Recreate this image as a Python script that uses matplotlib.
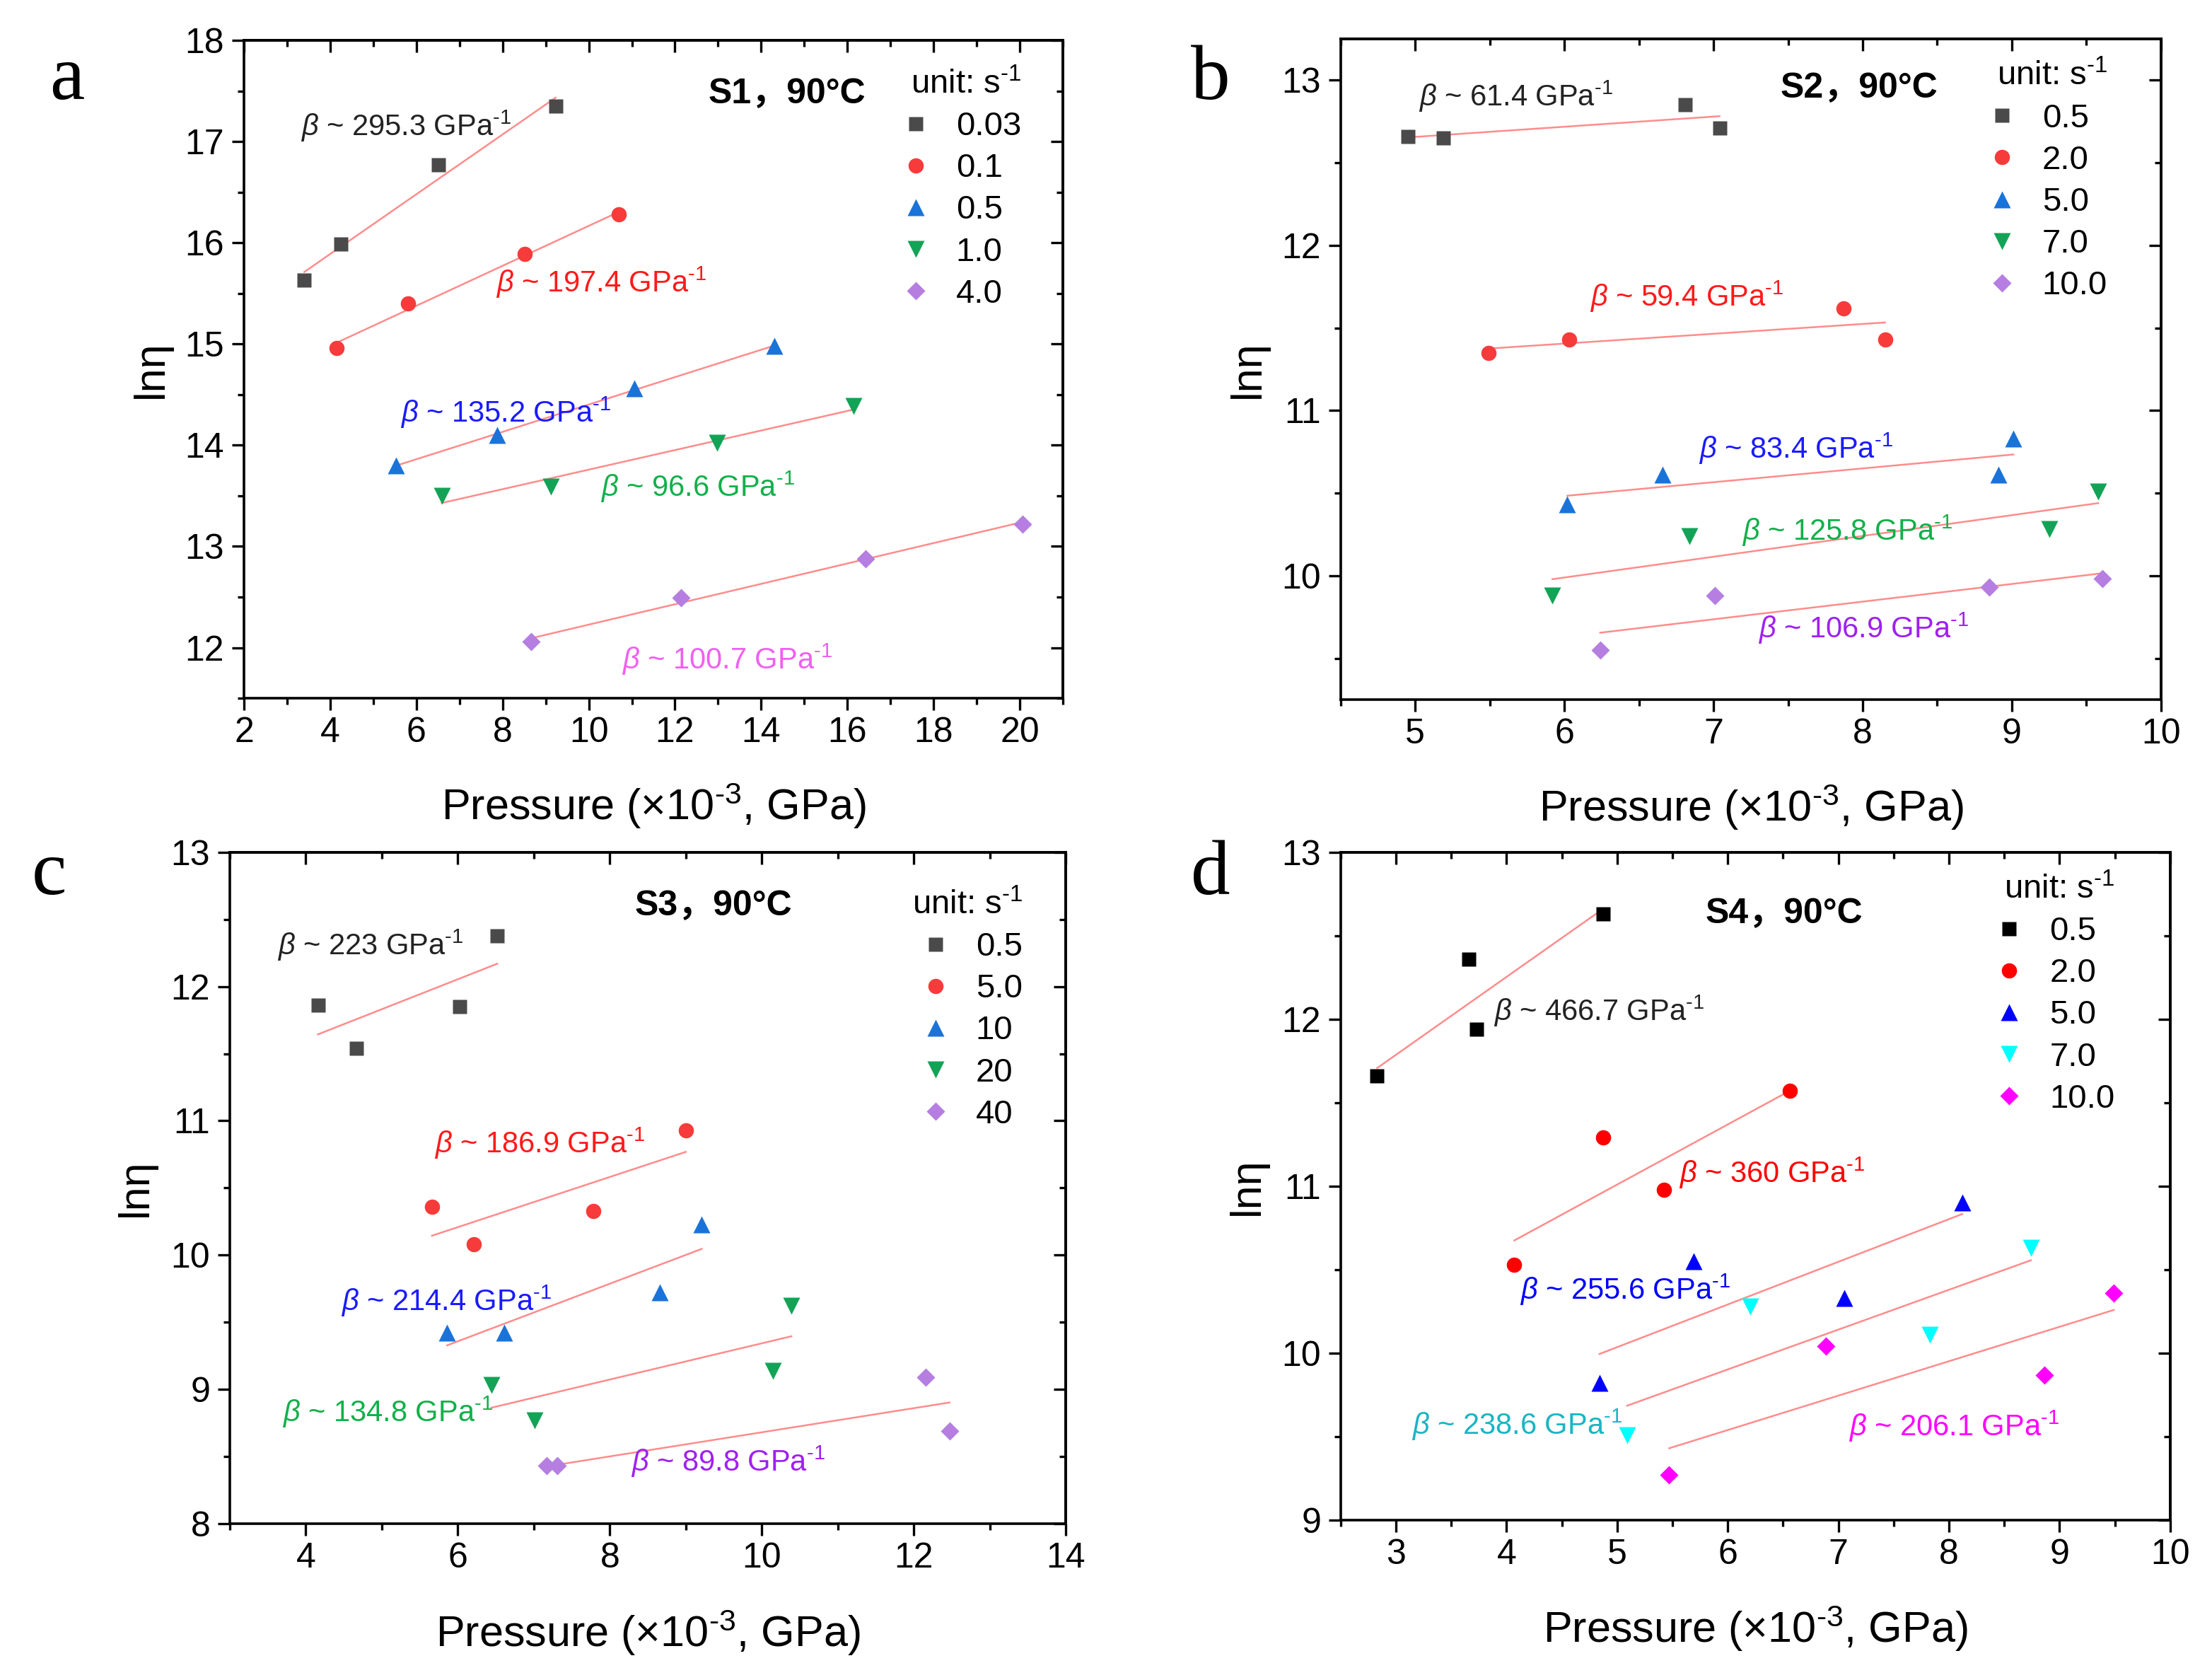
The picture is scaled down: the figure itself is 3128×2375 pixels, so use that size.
import numpy as np
import matplotlib
matplotlib.use('Agg')
import matplotlib.pyplot as plt
from matplotlib.ticker import MultipleLocator

plt.rcParams['font.family'] = ['Liberation Sans', 'Noto Sans CJK SC', 'DejaVu Sans']
plt.rcParams['mathtext.fontset'] = 'custom'
plt.rcParams['mathtext.rm'] = 'Liberation Sans'
plt.rcParams['mathtext.it'] = 'Liberation Sans:italic'

# ---- data ----
# panel a: S1
A_RATES = ['0.03', '0.1', '0.5', '1.0', '4.0']
A_X = [[3.40, 4.25, 6.52, 9.23],
       [4.15, 5.81, 8.51, 10.70],
       [5.53, 7.87, 11.06, 14.30],
       [6.59, 9.12, 12.97, 16.15],
       [8.66, 12.14, 16.43, 20.07]]
A_Y = [[15.63, 15.99, 16.77, 17.35],
       [14.96, 15.40, 15.89, 16.28],
       [13.80, 14.10, 14.56, 14.98],
       [13.50, 13.59, 14.02, 14.39],
       [12.06, 12.49, 12.88, 13.22]]
A_BETA = [295.3, 197.4, 135.2, 96.6, 100.7]

# panel b: S2
B_RATES = ['0.5', '2.0', '5.0', '7.0', '10.0']
B_X = [[4.95, 5.19, 6.81, 7.04],
       [5.49, 6.03, 7.87, 8.15],
       [6.02, 6.66, 8.91, 9.01],
       [5.92, 6.84, 9.25, 9.58],
       [6.24, 7.01, 8.85, 9.61]]
B_Y = [[12.66, 12.65, 12.85, 12.71],
       [11.35, 11.43, 11.62, 11.43],
       [10.43, 10.61, 10.61, 10.83],
       [9.88, 10.24, 10.28, 10.51],
       [9.55, 9.88, 9.93, 9.98]]
B_BETA = [61.4, 59.4, 83.4, 125.8, 106.9]

# panel c: S3
C_RATES = ['0.5', '5.0', '10', '20', '40']
C_X = [[4.16, 4.67, 6.02, 6.52],
       [5.66, 6.21, 7.78, 9.00],
       [5.86, 6.61, 8.66, 9.21],
       [6.44, 7.01, 10.15, 10.39],
       [7.17, 7.31, 12.16, 12.47]]
C_Y = [[11.86, 11.54, 11.85, 12.38],
       [10.36, 10.08, 10.33, 10.93],
       [9.42, 9.42, 9.72, 10.23],
       [9.03, 8.77, 9.14, 9.62],
       [8.43, 8.43, 9.09, 8.69]]
C_BETA = [223, 186.9, 214.4, 134.8, 89.8]

# panel d: S4
D_RATES = ['0.5', '2.0', '5.0', '7.0', '10.0']
D_X = [[2.83, 3.66, 3.73, 4.87],
       [4.07, 4.87, 5.42, 6.56],
       [4.84, 5.69, 7.05, 8.12],
       [5.09, 6.20, 7.83, 8.74],
       [5.47, 6.89, 8.86, 9.49]]
D_Y = [[11.66, 12.36, 11.94, 12.63],
       [10.53, 11.29, 10.98, 11.57],
       [9.82, 10.55, 10.33, 10.90],
       [9.51, 10.28, 10.11, 10.63],
       [9.27, 10.04, 9.87, 10.36]]
D_BETA = [466.7, 360, 255.6, 238.6, 206.1]

# ---- layout / style ----
MARKERS = ['s', 'o', '^', 'v', 'D']
MSIZE = [14.5, 15.5, 17.5, 17.5, 13.5]
COL_ABC = ['#4a4a4a', '#f73b3b', '#1a73d9', '#13a356', '#b57ee0']
COL_D = ['#000000', '#ff0000', '#0000ff', '#00ffff', '#ff00ff']
LAB_A = ['#222222', '#ff1a1a', '#1a1aff', '#12b04a', '#f060f0']
LAB_BC = ['#222222', '#ff1a1a', '#1a1aff', '#12b04a', '#a020f0']
LAB_D = ['#222222', '#ff0000', '#0000ff', '#1ab5c5', '#ff00ff']
FIT = '#ff8c8c'
HY = '\u2010'  # short hyphen for the superscripts

A_LXY = [(3.32, 17.15), (7.84, 15.61), (5.62, 14.32), (10.27, 13.59), (10.76, 11.88)]
B_LXY = [(5.02, 12.90), (6.17, 11.69), (6.90, 10.77), (7.19, 10.27), (7.30, 9.68)]
C_LXY = [(3.62, 12.31), (5.69, 10.83), (4.46, 9.66), (3.69, 8.83), (8.28, 8.46)]
D_LXY = [(3.88, 12.05), (5.56, 11.08), (4.12, 10.38), (3.14, 9.57), (7.09, 9.56)]

panels = [
    dict(pos=[0.1103, 0.5844, 0.3702, 0.3916], rates=A_RATES, X=A_X, Y=A_Y, beta=A_BETA,
         col=COL_ABC, lab=LAB_A, lxy=A_LXY, xlim=(2, 21), ylim=(11.5, 18), xmaj=2, ymaj=1,
         title='S1，90°C', txy=(12.77, 17.47), leg=(0.80, 0.957), letter='a', lpos=(0.0224, 0.941)),
    dict(pos=[0.6061, 0.5836, 0.3708, 0.3933], rates=B_RATES, X=B_X, Y=B_Y, beta=B_BETA,
         col=COL_ABC, lab=LAB_BC, lxy=B_LXY, xlim=(4.5, 10), ylim=(9.25, 13.25), xmaj=1, ymaj=1,
         title='S2，90°C', txy=(7.45, 12.95), leg=(0.786, 0.967), letter='b', lpos=(0.5384, 0.941)),
    dict(pos=[0.1039, 0.0931, 0.3779, 0.3996], rates=C_RATES, X=C_X, Y=C_Y, beta=C_BETA,
         col=COL_ABC, lab=LAB_BC, lxy=C_LXY, xlim=(3, 14), ylim=(8, 13), xmaj=2, ymaj=1,
         title='S3，90°C', txy=(8.33, 12.60), leg=(0.816, 0.945), letter='c', lpos=(0.0144, 0.4678)),
    dict(pos=[0.6061, 0.0952, 0.3750, 0.3975], rates=D_RATES, X=D_X, Y=D_Y, beta=D_BETA,
         col=COL_D, lab=LAB_D, lxy=D_LXY, xlim=(2.5, 10), ylim=(9, 13), xmaj=1, ymaj=1,
         title='S4，90°C', txy=(5.80, 12.63), leg=(0.786, 0.968), letter='d', lpos=(0.5384, 0.4678)),
]

fig = plt.figure(figsize=(31.28, 23.75), dpi=100)

for p in panels:
    ax = fig.add_axes(p['pos'])
    for i in range(5):
        x = np.array(p['X'][i])
        y = np.array(p['Y'][i])
        # fitted line: slope = beta (GPa^-1) * 1e-3, through the centroid
        k = p['beta'][i] / 1000.0
        xl = np.array([x.min(), x.max()])
        ax.plot(xl, y.mean() + k * (xl - x.mean()), color=FIT, lw=1.8, zorder=2)
        ax.plot(x, y, ls='none', marker=MARKERS[i], ms=MSIZE[i], color=p['col'][i],
                mec='none', label=p['rates'][i], zorder=3)
        lx, ly = p['lxy'][i]
        ax.text(lx, ly, '$β$ ~ %s GPa$^{%s1}$' % (p['beta'][i], HY), color=p['lab'][i],
                fontsize=30, ha='left', va='center', zorder=4)
    ax.text(p['txy'][0], p['txy'][1], p['title'], fontsize=36, fontweight='bold',
            ha='left', va='center')
    ax.set_xlim(*p['xlim'])
    ax.set_ylim(*p['ylim'])
    ax.xaxis.set_major_locator(MultipleLocator(p['xmaj']))
    ax.xaxis.set_minor_locator(MultipleLocator(p['xmaj'] / 2))
    ax.yaxis.set_major_locator(MultipleLocator(p['ymaj']))
    ax.yaxis.set_minor_locator(MultipleLocator(p['ymaj'] / 2))
    ax.tick_params(which='both', direction='out', width=2.4, labelsize=36)
    ax.tick_params(which='major', length=12)
    ax.tick_params(which='minor', length=6.5)
    ax.tick_params(axis='x', pad=7)
    ax.tick_params(axis='y', pad=8)
    for s in ax.spines.values():
        s.set_linewidth(2.6)

    top = ax.secondary_xaxis('top')
    top.xaxis.set_major_locator(MultipleLocator(p['xmaj']))
    top.xaxis.set_minor_locator(MultipleLocator(p['xmaj'] / 2))
    top.tick_params(which='both', direction='in', width=2.4, labeltop=False)
    top.tick_params(which='major', length=12)
    top.tick_params(which='minor', length=6.5)
    top.spines['top'].set_linewidth(2.6)
    right = ax.secondary_yaxis('right')
    right.yaxis.set_major_locator(MultipleLocator(p['ymaj']))
    right.yaxis.set_minor_locator(MultipleLocator(p['ymaj'] / 2))
    right.tick_params(which='both', direction='in', width=2.4, labelright=False)
    right.tick_params(which='major', length=12)
    right.tick_params(which='minor', length=6.5)
    right.spines['right'].set_linewidth(2.6)

    ax.set_xlabel('Pressure (×10$^{%s3}$, GPa)' % HY, fontsize=44)
    ax.set_ylabel('lnη', fontsize=44)
    ax.xaxis.set_label_coords(0.5, -0.126)
    ax.yaxis.set_label_coords(-0.088, 0.5)

    ax.legend(loc='upper left', bbox_to_anchor=p['leg'], frameon=False,
              fontsize=34, title='unit: s$^{%s1}$' % HY, title_fontsize=34,
              handlelength=1.0, handletextpad=0.7, labelspacing=0.32,
              borderpad=0, borderaxespad=0, numpoints=1, alignment='right')

    fig.text(p['lpos'][0], p['lpos'][1], p['letter'], fontsize=80,
             family='Liberation Serif', ha='left', va='baseline')

fig.savefig('out.png', dpi=100)
